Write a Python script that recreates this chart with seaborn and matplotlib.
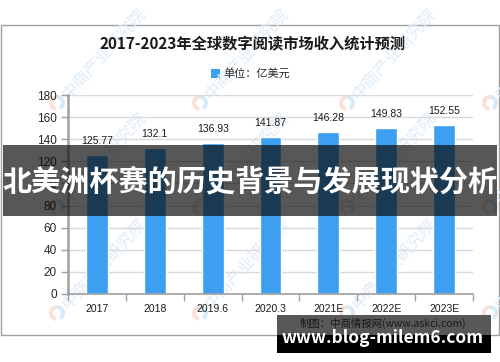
import matplotlib
matplotlib.use("Agg")
import matplotlib.pyplot as plt
import seaborn as sns
import pandas as pd
from matplotlib.patches import Rectangle, Wedge

years = ['2017', '2018', '2019.6', '2020.3', '2021E', '2022E', '2023E']
values = [125.77, 132.1, 136.93, 141.87, 146.28, 149.83, 152.55]
value_labels = ['125.77', '132.1', '136.93', '141.87', '146.28', '149.83', '152.55']
y_ticks = [0, 20, 40, 60, 80, 100, 120, 140, 160, 180]

title = '2017-2023年全球数字阅读市场收入统计预测'
legend_label = '单位：亿美元'
source = '制图：中商情报网(www.askci.com)'
banner = '北美洲杯赛的历史背景与发展现状分析'
site = 'www.blog-milem6.com'
watermark = '中商产业研究院'

sns.set_theme(style='white')
plt.rcParams['font.family'] = ['Noto Sans CJK SC', 'DejaVu Sans']

BAR = '#3c9ff0'
W, H = 500, 362
fig = plt.figure(figsize=(W / 100, H / 100), dpi=100)
fig.patch.set_facecolor('white')

# background layer in pixel coordinates
bg = fig.add_axes([0, 0, 1, 1], zorder=0)
bg.set_xlim(0, W)
bg.set_ylim(H, 0)
bg.axis('off')

# watermarks (drawn first, faint)
for wy in [103, 207, 313]:
    for wx in [57, 200, 347, 490]:
        bg.add_patch(Wedge((wx, wy), 8, 100, 260, width=4, color='#fbe1d5', lw=0))
        bg.add_patch(Wedge((wx, wy), 8, 260, 60, width=4, color='#d8e9f7', lw=0))
        t = bg.text(wx + 8, wy - 6, watermark, ha='left', va='center', rotation=48,
                    rotation_mode='anchor', fontsize=12, color='#dfecf8')
        t.set_clip_on(True)

bg.add_patch(Rectangle((0.5, 25), 498.5, 310, fill=False, ec='#a0a0a0', lw=1.0))
bg.text(253, 43, title, ha='center', va='center', fontsize=11, fontweight='bold', color='#1a1a1a')
bg.add_patch(Rectangle((211, 69), 9, 9, color=BAR, lw=0))
bg.text(223, 73.5, legend_label, ha='left', va='center', fontsize=8, color='#262626')

# chart axes
ax = fig.add_axes([68 / W, (H - 294) / H, 405 / W, 199 / H], zorder=1)
ax.set_facecolor('none')
df = pd.DataFrame({'year': years, 'value': values})
sns.barplot(data=df, x='year', y='value', color=BAR, saturation=1, width=0.38, ax=ax, zorder=2)
for i, (v, lab) in enumerate(zip(values, value_labels)):
    ax.annotate(lab, (i, v), xytext=(0, 6.5), textcoords='offset points', ha='center', va='bottom',
                fontsize=7.5, family='Liberation Sans', color='#1a1a1a')
ax.set_ylim(0, 180)
ax.set_xlim(-0.5, len(years) - 0.5)
ax.set_yticks(y_ticks)
ax.set_yticklabels([str(t) for t in y_ticks], family='Liberation Sans', fontsize=8.5, color='#262626')
ax.set_xticks(range(len(years)))
ax.set_xticklabels(years, family='Liberation Sans', fontsize=7.5, color='#1a1a1a')
ax.set_xticks([i - 0.5 for i in range(len(years) + 1)], minor=True)
ax.tick_params(axis='x', which='major', length=0, pad=7)
ax.tick_params(axis='x', which='minor', length=5, width=1, color='#a0a0a0', direction='out', bottom=True)
ax.tick_params(axis='y', length=5, width=1, color='#a0a0a0', direction='out', pad=3, left=True)
ax.yaxis.grid(True, color='#d9d9d9', lw=1)
ax.set_axisbelow(True)
ax.set_xlabel('')
ax.set_ylabel('')
for s in ['top', 'right']:
    ax.spines[s].set_visible(False)
ax.spines['left'].set_color('#a0a0a0')
ax.spines['left'].set_linewidth(1.8)
ax.spines['bottom'].set_color('#a0a0a0')
ax.spines['bottom'].set_linewidth(1.2)

# foreground overlays
fg = fig.add_axes([0, 0, 1, 1], zorder=3)
fg.set_xlim(0, W)
fg.set_ylim(H, 0)
fg.axis('off')
fg.patch.set_alpha(0)
fg.add_patch(Rectangle((3, 145), 494, 71, color='#0c0c0c', alpha=0.69, lw=0))
fg.text(250, 181, banner, ha='center', va='center', fontsize=21, fontweight='bold', color='white')
fg.add_patch(Rectangle((277, 315), 214, 20, color='#585858', lw=0))
fg.add_patch(Rectangle((277, 335), 214, 18, color='black', lw=0))
fg.text(383, 323, source, ha='center', va='center', fontsize=7.5, color='#1a1a1a')
fg.text(383, 338, site, ha='center', va='center', fontsize=12.5, fontweight='bold', color='white')

fig.savefig('out.png', dpi=100, facecolor='white')
